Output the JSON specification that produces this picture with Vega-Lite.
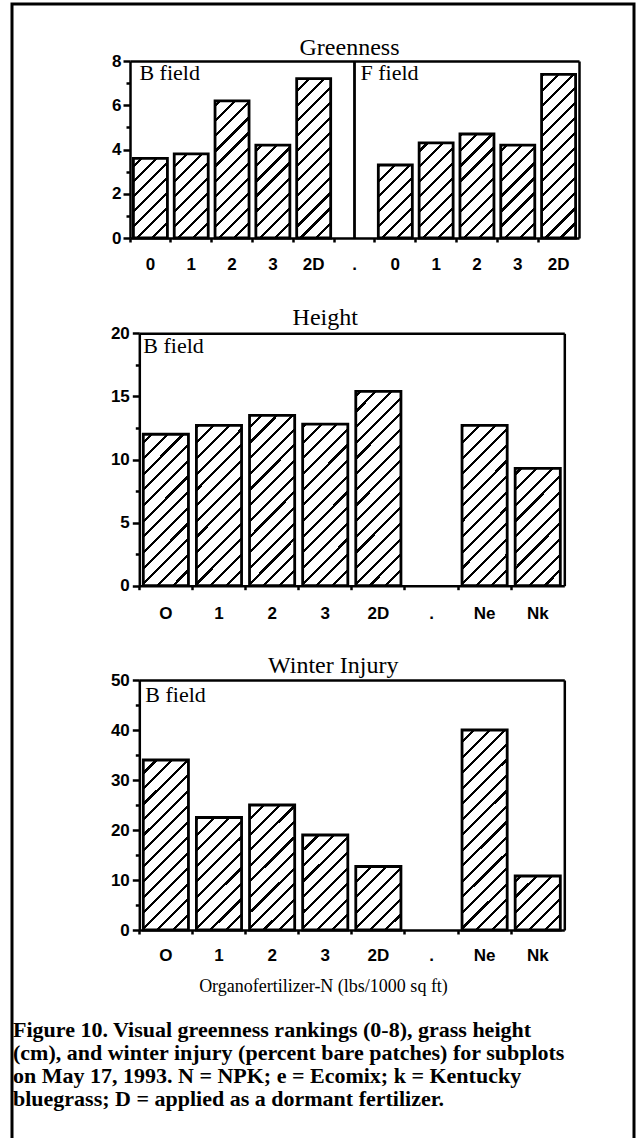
{
  "$schema": "https://vega.github.io/schema/vega-lite/v6.json",
  "width": 622,
  "height": 1140,
  "autosize": {"type": "none"},
  "padding": {"left": 12, "top": 4, "right": 10, "bottom": 0},
  "background": "white",
  "view": {"stroke": "black", "strokeWidth": 3, "fill": "white"},
  "title": {
    "text": [
      "Figure 10. Visual greenness rankings (0-8), grass height",
      "(cm), and winter injury (percent bare patches) for subplots",
      "on May 17, 1993. N = NPK; e = Ecomix; k = Kentucky",
      "bluegrass; D = applied as a dormant fertilizer."
    ],
    "orient": "bottom",
    "anchor": "start",
    "frame": "group",
    "offset": -124,
    "dx": 1,
    "font": "Liberation Serif",
    "fontSize": 22,
    "fontWeight": "bold",
    "lineHeight": 23,
    "color": "black"
  },
  "datasets": {
    "greenness": [
      {"field": "B", "treatment": "0", "key": "B0", "greenness": 3.6},
      {"field": "B", "treatment": "1", "key": "B1", "greenness": 3.8},
      {"field": "B", "treatment": "2", "key": "B2", "greenness": 6.2},
      {"field": "B", "treatment": "3", "key": "B3", "greenness": 4.2},
      {"field": "B", "treatment": "2D", "key": "B2D", "greenness": 7.2},
      {"field": "F", "treatment": "0", "key": "F0", "greenness": 3.3},
      {"field": "F", "treatment": "1", "key": "F1", "greenness": 4.3},
      {"field": "F", "treatment": "2", "key": "F2", "greenness": 4.7},
      {"field": "F", "treatment": "3", "key": "F3", "greenness": 4.2},
      {"field": "F", "treatment": "2D", "key": "F2D", "greenness": 7.4}
    ],
    "height": [
      {"treatment": "O", "height": 12.0},
      {"treatment": "1", "height": 12.7},
      {"treatment": "2", "height": 13.5},
      {"treatment": "3", "height": 12.8},
      {"treatment": "2D", "height": 15.4},
      {"treatment": "Ne", "height": 12.7},
      {"treatment": "Nk", "height": 9.3}
    ],
    "injury": [
      {"treatment": "O", "injury": 34.0},
      {"treatment": "1", "injury": 22.5},
      {"treatment": "2", "injury": 25.0},
      {"treatment": "3", "injury": 19.0},
      {"treatment": "2D", "injury": 12.7},
      {"treatment": "Ne", "injury": 40.0},
      {"treatment": "Nk", "injury": 10.8}
    ]
  },
  "config": {
    "view": {"stroke": "black", "strokeWidth": 3},
    "axis": {
      "grid": false,
      "domainColor": "black",
      "tickColor": "black",
      "labelColor": "black",
      "domainWidth": 2.5,
      "tickWidth": 2.5,
      "labelFont": "Liberation Sans",
      "labelFontWeight": "bold",
      "labelFontSize": 17,
      "labelOverlap": false,
      "labelFlush": false,
      "zindex": 1
    },
    "text": {"font": "Liberation Serif", "fontSize": 22, "color": "black"}
  },
  "layer": [
    {
      "data": {"name": "greenness"},
      "layer": [
        {
          "mark": {"type": "bar", "strokeWidth": 0, "fill": {"gradient": "linear", "x1": 0, "y1": 0, "x2": 0.2208, "y2": 1.1497, "stops": [
            {"offset": 0, "color": "white"},
            {"offset": 0.0639, "color": "white"}, {"offset": 0.0639, "color": "black"}, {"offset": 0.0789, "color": "black"}, {"offset": 0.0789, "color": "white"},
            {"offset": 0.1354, "color": "white"}, {"offset": 0.1354, "color": "black"}, {"offset": 0.1504, "color": "black"}, {"offset": 0.1504, "color": "white"},
            {"offset": 0.2068, "color": "white"}, {"offset": 0.2068, "color": "black"}, {"offset": 0.2218, "color": "black"}, {"offset": 0.2218, "color": "white"},
            {"offset": 0.2782, "color": "white"}, {"offset": 0.2782, "color": "black"}, {"offset": 0.2932, "color": "black"}, {"offset": 0.2932, "color": "white"},
            {"offset": 0.3496, "color": "white"}, {"offset": 0.3496, "color": "black"}, {"offset": 0.3646, "color": "black"}, {"offset": 0.3646, "color": "white"},
            {"offset": 0.4211, "color": "white"}, {"offset": 0.4211, "color": "black"}, {"offset": 0.4361, "color": "black"}, {"offset": 0.4361, "color": "white"},
            {"offset": 0.4925, "color": "white"}, {"offset": 0.4925, "color": "black"}, {"offset": 0.5075, "color": "black"}, {"offset": 0.5075, "color": "white"},
            {"offset": 0.5639, "color": "white"}, {"offset": 0.5639, "color": "black"}, {"offset": 0.5789, "color": "black"}, {"offset": 0.5789, "color": "white"},
            {"offset": 0.6354, "color": "white"}, {"offset": 0.6354, "color": "black"}, {"offset": 0.6504, "color": "black"}, {"offset": 0.6504, "color": "white"},
            {"offset": 0.7068, "color": "white"}, {"offset": 0.7068, "color": "black"}, {"offset": 0.7218, "color": "black"}, {"offset": 0.7218, "color": "white"},
            {"offset": 0.7782, "color": "white"}, {"offset": 0.7782, "color": "black"}, {"offset": 0.7932, "color": "black"}, {"offset": 0.7932, "color": "white"},
            {"offset": 0.8496, "color": "white"}, {"offset": 0.8496, "color": "black"}, {"offset": 0.8646, "color": "black"}, {"offset": 0.8646, "color": "white"},
            {"offset": 0.9211, "color": "white"}, {"offset": 0.9211, "color": "black"}, {"offset": 0.9361, "color": "black"}, {"offset": 0.9361, "color": "white"},
            {"offset": 1, "color": "white"}
          ]}},
          "encoding": {
            "x": {"field": "key", "type": "nominal",
              "scale": {"domain": ["B0", "B1", "B2", "B3", "B2D", ".", "F0", "F1", "F2", "F3", "F2D"], "range": [118, 567], "paddingInner": 0.167, "paddingOuter": 0.0835},
              "axis": {"orient": "bottom", "offset": -906, "zindex": 1, "labels": false, "ticks": true, "tickSize": 4, "bandPosition": -0.1, "domain": true, "title": null}},
            "y": {"datum": 8, "type": "quantitative",
              "scale": {"domain": [0, 8], "range": [234, 57], "nice": false, "zero": true},
              "axis": {"orient": "left", "offset": -118, "zindex": 1, "values": [0, 2, 4, 6, 8], "tickSize": 7, "labelPadding": 2, "domain": true, "title": null}},
            "y2": {"datum": 0}
          }
        },
        {
          "mark": {"type": "bar", "fill": "white", "strokeWidth": 0, "width": {"band": 1.08}},
          "encoding": {
            "x": {"field": "key", "type": "nominal", "axis": {"orient": "top", "offset": -57, "zindex": 1, "labels": false, "ticks": false, "domain": true, "title": null}},
            "y": {"field": "greenness", "type": "quantitative", "axis": {"orient": "right", "offset": -55, "zindex": 1, "labels": false, "ticks": false, "domain": true, "title": null}},
            "y2": {"datum": 8}
          }
        },
        {
          "mark": {"type": "bar", "fill": "white", "fillOpacity": 0, "stroke": "black", "strokeWidth": 2.8},
          "encoding": {
            "x": {"field": "key", "type": "nominal", "axis": {"orient": "bottom", "offset": -906, "zindex": 1, "labels": true, "ticks": false, "tickSize": 0, "domain": false, "labelPadding": 18, "labelAngle": 0, "labelExpr": "datum.label == '.' ? '.' : substring(datum.label, 1)", "title": null}},
            "y": {"field": "greenness", "type": "quantitative", "axis": {"orient": "left", "offset": -118, "zindex": 1, "values": [1, 3, 5, 7], "labels": false, "tickSize": 4, "domain": false, "title": null}}
          }
        },
        {
          "data": {"values": [{}]},
          "mark": {"type": "rule", "stroke": "black", "strokeWidth": 2.8},
          "encoding": {
            "x": {"datum": ".", "type": "nominal", "axis": null},
            "y": {"datum": 0, "type": "quantitative", "axis": null},
            "y2": {"datum": 8}
          }
        },
        {
          "data": {"values": [{}]},
          "mark": {"type": "text", "text": "Greenness", "fontSize": 24, "align": "center", "baseline": "alphabetic", "dx": -5, "dy": -6},
          "encoding": {
            "x": {"datum": ".", "type": "nominal", "axis": null},
            "y": {"datum": 8, "type": "quantitative", "axis": null}
          }
        },
        {
          "data": {"values": [{}]},
          "mark": {"type": "text", "text": "B field", "align": "left", "baseline": "alphabetic", "dx": 6, "dy": 19},
          "encoding": {
            "x": {"datum": "B0", "type": "nominal", "bandPosition": 0, "axis": null},
            "y": {"datum": 8, "type": "quantitative", "axis": null}
          }
        },
        {
          "data": {"values": [{}]},
          "mark": {"type": "text", "text": "F field", "align": "left", "baseline": "alphabetic", "dx": 6, "dy": 19},
          "encoding": {
            "x": {"datum": ".", "type": "nominal", "axis": null},
            "y": {"datum": 8, "type": "quantitative", "axis": null}
          }
        }
      ],
      "resolve": {"axis": {"x": "independent", "y": "independent"}}
    },
    {
      "data": {"name": "height"},
      "layer": [
        {
          "mark": {"type": "bar", "strokeWidth": 0, "fill": {"gradient": "linear", "x1": 0, "y1": 0, "x2": 0.2055, "y2": 1.143, "stops": [
            {"offset": 0, "color": "white"},
            {"offset": 0.0473, "color": "white"}, {"offset": 0.0473, "color": "black"}, {"offset": 0.0579, "color": "black"}, {"offset": 0.0579, "color": "white"},
            {"offset": 0.1, "color": "white"}, {"offset": 0.1, "color": "black"}, {"offset": 0.1106, "color": "black"}, {"offset": 0.1106, "color": "white"},
            {"offset": 0.1526, "color": "white"}, {"offset": 0.1526, "color": "black"}, {"offset": 0.1632, "color": "black"}, {"offset": 0.1632, "color": "white"},
            {"offset": 0.2052, "color": "white"}, {"offset": 0.2052, "color": "black"}, {"offset": 0.2158, "color": "black"}, {"offset": 0.2158, "color": "white"},
            {"offset": 0.2579, "color": "white"}, {"offset": 0.2579, "color": "black"}, {"offset": 0.2685, "color": "black"}, {"offset": 0.2685, "color": "white"},
            {"offset": 0.3105, "color": "white"}, {"offset": 0.3105, "color": "black"}, {"offset": 0.3211, "color": "black"}, {"offset": 0.3211, "color": "white"},
            {"offset": 0.3631, "color": "white"}, {"offset": 0.3631, "color": "black"}, {"offset": 0.3737, "color": "black"}, {"offset": 0.3737, "color": "white"},
            {"offset": 0.4158, "color": "white"}, {"offset": 0.4158, "color": "black"}, {"offset": 0.4264, "color": "black"}, {"offset": 0.4264, "color": "white"},
            {"offset": 0.4684, "color": "white"}, {"offset": 0.4684, "color": "black"}, {"offset": 0.479, "color": "black"}, {"offset": 0.479, "color": "white"},
            {"offset": 0.521, "color": "white"}, {"offset": 0.521, "color": "black"}, {"offset": 0.5316, "color": "black"}, {"offset": 0.5316, "color": "white"},
            {"offset": 0.5736, "color": "white"}, {"offset": 0.5736, "color": "black"}, {"offset": 0.5842, "color": "black"}, {"offset": 0.5842, "color": "white"},
            {"offset": 0.6263, "color": "white"}, {"offset": 0.6263, "color": "black"}, {"offset": 0.6369, "color": "black"}, {"offset": 0.6369, "color": "white"},
            {"offset": 0.6789, "color": "white"}, {"offset": 0.6789, "color": "black"}, {"offset": 0.6895, "color": "black"}, {"offset": 0.6895, "color": "white"},
            {"offset": 0.7315, "color": "white"}, {"offset": 0.7315, "color": "black"}, {"offset": 0.7421, "color": "black"}, {"offset": 0.7421, "color": "white"},
            {"offset": 0.7842, "color": "white"}, {"offset": 0.7842, "color": "black"}, {"offset": 0.7948, "color": "black"}, {"offset": 0.7948, "color": "white"},
            {"offset": 0.8368, "color": "white"}, {"offset": 0.8368, "color": "black"}, {"offset": 0.8474, "color": "black"}, {"offset": 0.8474, "color": "white"},
            {"offset": 0.8894, "color": "white"}, {"offset": 0.8894, "color": "black"}, {"offset": 0.9, "color": "black"}, {"offset": 0.9, "color": "white"},
            {"offset": 0.9421, "color": "white"}, {"offset": 0.9421, "color": "black"}, {"offset": 0.9527, "color": "black"}, {"offset": 0.9527, "color": "white"},
            {"offset": 1, "color": "white"}
          ]}},
          "encoding": {
            "x": {"field": "treatment", "type": "nominal",
              "scale": {"domain": ["O", "1", "2", "3", "2D", ".", "Ne", "Nk"], "range": [127.3, 552.3], "paddingInner": 0.15, "paddingOuter": 0.075},
              "axis": {"orient": "bottom", "offset": -558.3, "zindex": 1, "labels": false, "ticks": true, "tickSize": 4, "bandPosition": -0.088, "domain": true, "title": null}},
            "y": {"datum": 20, "type": "quantitative",
              "scale": {"domain": [0, 20], "range": [581.7, 329.3], "nice": false, "zero": true},
              "axis": {"orient": "left", "offset": -127.3, "zindex": 1, "values": [0, 5, 10, 15, 20], "tickSize": 7, "labelPadding": 3, "domain": true, "title": null}},
            "y2": {"datum": 0}
          }
        },
        {
          "mark": {"type": "bar", "fill": "white", "strokeWidth": 0, "width": {"band": 1.07}},
          "encoding": {
            "x": {"field": "treatment", "type": "nominal", "axis": {"orient": "top", "offset": -329.3, "zindex": 1, "labels": false, "ticks": false, "domain": true, "title": null}},
            "y": {"field": "height", "type": "quantitative", "axis": {"orient": "right", "offset": -69.7, "zindex": 1, "labels": false, "ticks": false, "domain": true, "title": null}},
            "y2": {"datum": 20}
          }
        },
        {
          "mark": {"type": "bar", "fill": "white", "fillOpacity": 0, "stroke": "black", "strokeWidth": 2.8},
          "encoding": {
            "x": {"field": "treatment", "type": "nominal", "axis": {"orient": "bottom", "offset": -558.3, "zindex": 1, "labels": true, "ticks": false, "tickSize": 0, "domain": false, "labelPadding": 20, "labelAngle": 0, "title": null}},
            "y": {"field": "height", "type": "quantitative", "axis": {"orient": "left", "offset": -127.3, "zindex": 1, "values": [2.5, 7.5, 12.5, 17.5], "labels": false, "tickSize": 4, "domain": false, "title": null}}
          }
        },
        {
          "data": {"values": [{}]},
          "mark": {"type": "text", "text": "Height", "fontSize": 24, "align": "center", "baseline": "alphabetic", "dy": -8},
          "encoding": {
            "x": {"datum": "3", "type": "nominal", "axis": null},
            "y": {"datum": 20, "type": "quantitative", "axis": null}
          }
        },
        {
          "data": {"values": [{}]},
          "mark": {"type": "text", "text": "B field", "align": "left", "baseline": "alphabetic", "dx": 0, "dy": 20},
          "encoding": {
            "x": {"datum": "O", "type": "nominal", "bandPosition": 0, "axis": null},
            "y": {"datum": 20, "type": "quantitative", "axis": null}
          }
        }
      ],
      "resolve": {"axis": {"x": "independent", "y": "independent"}}
    },
    {
      "data": {"name": "injury"},
      "layer": [
        {
          "mark": {"type": "bar", "strokeWidth": 0, "fill": {"gradient": "linear", "x1": 0, "y1": 0, "x2": 0.2055, "y2": 1.143, "stops": [
            {"offset": 0, "color": "white"},
            {"offset": 0.0473, "color": "white"}, {"offset": 0.0473, "color": "black"}, {"offset": 0.0579, "color": "black"}, {"offset": 0.0579, "color": "white"},
            {"offset": 0.1, "color": "white"}, {"offset": 0.1, "color": "black"}, {"offset": 0.1106, "color": "black"}, {"offset": 0.1106, "color": "white"},
            {"offset": 0.1526, "color": "white"}, {"offset": 0.1526, "color": "black"}, {"offset": 0.1632, "color": "black"}, {"offset": 0.1632, "color": "white"},
            {"offset": 0.2052, "color": "white"}, {"offset": 0.2052, "color": "black"}, {"offset": 0.2158, "color": "black"}, {"offset": 0.2158, "color": "white"},
            {"offset": 0.2579, "color": "white"}, {"offset": 0.2579, "color": "black"}, {"offset": 0.2685, "color": "black"}, {"offset": 0.2685, "color": "white"},
            {"offset": 0.3105, "color": "white"}, {"offset": 0.3105, "color": "black"}, {"offset": 0.3211, "color": "black"}, {"offset": 0.3211, "color": "white"},
            {"offset": 0.3631, "color": "white"}, {"offset": 0.3631, "color": "black"}, {"offset": 0.3737, "color": "black"}, {"offset": 0.3737, "color": "white"},
            {"offset": 0.4158, "color": "white"}, {"offset": 0.4158, "color": "black"}, {"offset": 0.4264, "color": "black"}, {"offset": 0.4264, "color": "white"},
            {"offset": 0.4684, "color": "white"}, {"offset": 0.4684, "color": "black"}, {"offset": 0.479, "color": "black"}, {"offset": 0.479, "color": "white"},
            {"offset": 0.521, "color": "white"}, {"offset": 0.521, "color": "black"}, {"offset": 0.5316, "color": "black"}, {"offset": 0.5316, "color": "white"},
            {"offset": 0.5736, "color": "white"}, {"offset": 0.5736, "color": "black"}, {"offset": 0.5842, "color": "black"}, {"offset": 0.5842, "color": "white"},
            {"offset": 0.6263, "color": "white"}, {"offset": 0.6263, "color": "black"}, {"offset": 0.6369, "color": "black"}, {"offset": 0.6369, "color": "white"},
            {"offset": 0.6789, "color": "white"}, {"offset": 0.6789, "color": "black"}, {"offset": 0.6895, "color": "black"}, {"offset": 0.6895, "color": "white"},
            {"offset": 0.7315, "color": "white"}, {"offset": 0.7315, "color": "black"}, {"offset": 0.7421, "color": "black"}, {"offset": 0.7421, "color": "white"},
            {"offset": 0.7842, "color": "white"}, {"offset": 0.7842, "color": "black"}, {"offset": 0.7948, "color": "black"}, {"offset": 0.7948, "color": "white"},
            {"offset": 0.8368, "color": "white"}, {"offset": 0.8368, "color": "black"}, {"offset": 0.8474, "color": "black"}, {"offset": 0.8474, "color": "white"},
            {"offset": 0.8894, "color": "white"}, {"offset": 0.8894, "color": "black"}, {"offset": 0.9, "color": "black"}, {"offset": 0.9, "color": "white"},
            {"offset": 0.9421, "color": "white"}, {"offset": 0.9421, "color": "black"}, {"offset": 0.9527, "color": "black"}, {"offset": 0.9527, "color": "white"},
            {"offset": 1, "color": "white"}
          ]}},
          "encoding": {
            "x": {"field": "treatment", "type": "nominal",
              "scale": {"domain": ["O", "1", "2", "3", "2D", ".", "Ne", "Nk"], "range": [127.3, 552.3], "paddingInner": 0.15, "paddingOuter": 0.075},
              "axis": {"orient": "bottom", "offset": -214, "zindex": 1, "labels": false, "ticks": true, "tickSize": 4, "bandPosition": -0.088, "domain": true, "title": null}},
            "y": {"datum": 50, "type": "quantitative",
              "scale": {"domain": [0, 50], "range": [926, 676], "nice": false, "zero": true},
              "axis": {"orient": "left", "offset": -127.3, "zindex": 1, "values": [0, 10, 20, 30, 40, 50], "tickSize": 7, "labelPadding": 3, "domain": true, "title": null}},
            "y2": {"datum": 0}
          }
        },
        {
          "mark": {"type": "bar", "fill": "white", "strokeWidth": 0, "width": {"band": 1.07}},
          "encoding": {
            "x": {"field": "treatment", "type": "nominal", "axis": {"orient": "top", "offset": -676, "zindex": 1, "labels": false, "ticks": false, "domain": true, "title": null}},
            "y": {"field": "injury", "type": "quantitative", "axis": {"orient": "right", "offset": -69.7, "zindex": 1, "labels": false, "ticks": false, "domain": true, "title": null}},
            "y2": {"datum": 50}
          }
        },
        {
          "mark": {"type": "bar", "fill": "white", "fillOpacity": 0, "stroke": "black", "strokeWidth": 2.8},
          "encoding": {
            "x": {"field": "treatment", "type": "nominal", "axis": {"orient": "bottom", "offset": -214, "zindex": 1, "labels": true, "ticks": false, "tickSize": 0, "domain": false, "labelPadding": 17, "labelAngle": 0,
              "title": "Organofertilizer-N (lbs/1000 sq ft)", "titleFont": "Liberation Serif", "titleFontSize": 18, "titleFontWeight": "normal", "titleColor": "black", "titleX": 311, "titleY": 61, "titleAlign": "center", "titleBaseline": "alphabetic"}},
            "y": {"field": "injury", "type": "quantitative", "axis": {"orient": "left", "offset": -127.3, "zindex": 1, "values": [5, 15, 25, 35, 45], "labels": false, "tickSize": 4, "domain": false, "title": null}}
          }
        },
        {
          "data": {"values": [{}]},
          "mark": {"type": "text", "text": "Winter Injury", "fontSize": 24, "align": "center", "baseline": "alphabetic", "dx": 8, "dy": -7},
          "encoding": {
            "x": {"datum": "3", "type": "nominal", "axis": null},
            "y": {"datum": 50, "type": "quantitative", "axis": null}
          }
        },
        {
          "data": {"values": [{}]},
          "mark": {"type": "text", "text": "B field", "align": "left", "baseline": "alphabetic", "dx": 2, "dy": 22},
          "encoding": {
            "x": {"datum": "O", "type": "nominal", "bandPosition": 0, "axis": null},
            "y": {"datum": 50, "type": "quantitative", "axis": null}
          }
        }
      ],
      "resolve": {"axis": {"x": "independent", "y": "independent"}}
    }
  ],
  "resolve": {
    "scale": {"x": "independent", "y": "independent"},
    "axis": {"x": "independent", "y": "independent"}
  }
}
